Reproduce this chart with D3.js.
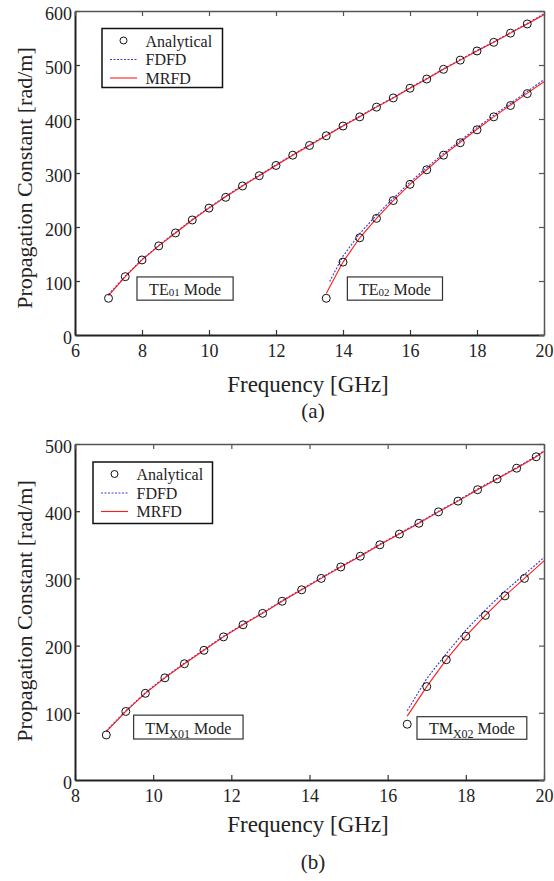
<!DOCTYPE html>
<html>
<head>
<meta charset="utf-8">
<script src="https://cdn.jsdelivr.net/npm/d3@7"></script>
<style>
  body { margin: 0; background: #fff; }
  svg text { font-family: "Liberation Serif", "Times New Roman", serif; fill: #222; }
</style>
</head>
<body>
<div id="chart"></div>
<script>
// ---- panel (a) data : TE modes ----
var teAnaFreq01 = [7, 7.5, 8, 8.5, 9, 9.5, 10, 10.5, 11, 11.5, 12, 12.5, 13, 13.5, 14, 14.5, 15, 15.5, 16, 16.5, 17, 17.5, 18, 18.5, 19, 19.5];
var te01Analytical = [68, 108, 139, 165, 189, 213, 235, 255, 276, 295, 314, 333, 351, 369, 387, 404, 422, 439, 457, 474, 492, 509, 526, 542, 559, 576];
var teLineFreq01 = [7, 7.5, 8, 8.5, 9, 9.5, 10, 10.5, 11, 11.5, 12, 12.5, 13, 13.5, 14, 14.5, 15, 15.5, 16, 16.5, 17, 17.5, 18, 18.5, 19, 19.5, 20];
var te01FDFD = [75, 109, 140, 166, 190, 214, 236, 257, 277, 296, 315, 334, 352, 370, 388, 405, 423, 440, 458, 475, 493, 510, 527, 543, 560, 577, 595];
var te01MRFD = [73, 108, 139, 165, 189, 213, 235, 256, 276, 295, 314, 333, 351, 369, 387, 404, 422, 439, 457, 474, 492, 509, 526, 542, 559, 576, 593];

var teAnaFreq02 = [13.5, 14, 14.5, 15, 15.5, 16, 16.5, 17, 17.5, 18, 18.5, 19, 19.5];
var te02Analytical = [68, 135, 180, 216, 249, 279, 306, 333, 356, 380, 404, 425, 447];
var teFdfdFreq02 = [13.6, 14, 14.5, 15, 15.5, 16, 16.5, 17, 17.5, 18, 18.5, 19, 19.5, 20];
var te02FDFD = [99, 146, 188, 222, 253, 283, 310, 336, 360, 384, 407, 429, 451, 473];
var teMrfdFreq02 = [13.5, 14, 14.5, 15, 15.5, 16, 16.5, 17, 17.5, 18, 18.5, 19, 19.5, 20];
var te02MRFD = [77, 135, 180, 216, 249, 279, 306, 333, 357, 381, 404, 426, 448, 469];

// ---- panel (b) data : TMx modes ----
var tmAnaFreq01 = [8.8, 9.3, 9.8, 10.3, 10.8, 11.3, 11.8, 12.3, 12.8, 13.3, 13.8, 14.3, 14.8, 15.3, 15.8, 16.3, 16.8, 17.3, 17.8, 18.3, 18.8, 19.3, 19.8];
var tm01Analytical = [67, 102, 129, 152, 173, 193, 213, 231, 248, 266, 283, 300, 317, 333, 350, 366, 382, 399, 415, 432, 448, 464, 481];
var tmLineFreq01 = [8.8, 9.3, 9.8, 10.3, 10.8, 11.3, 11.8, 12.3, 12.8, 13.3, 13.8, 14.3, 14.8, 15.3, 15.8, 16.3, 16.8, 17.3, 17.8, 18.3, 18.8, 19.3, 19.8, 20];
var tm01FDFD = [73, 103, 130, 153, 174, 194, 214, 232, 249, 267, 284, 301, 318, 334, 351, 367, 383, 400, 416, 433, 449, 465, 482, 490];
var tm01MRFD = [72, 102, 129, 152, 173, 193, 213, 231, 248, 266, 283, 300, 317, 333, 350, 366, 382, 399, 415, 432, 448, 464, 481, 489];

var tmAnaFreq02 = [16.5, 17, 17.5, 18, 18.5, 19, 19.5];
var tm02Analytical = [83, 139, 179, 214, 245, 274, 300];
var tmLineFreq02 = [16.5, 17, 17.5, 18, 18.5, 19, 19.5, 20];
var tm02FDFD = [103, 151, 188, 223, 253, 281, 306, 331];
var tm02MRFD = [95, 139, 179, 214, 245, 274, 300, 326];

function pairs(xs, ys) { return xs.map(function(x, i){ return [x, ys[i]]; }); }

var svg = d3.select("#chart").append("svg")
    .attr("width", 554)
    .attr("height", 881);

function drawPanel(cfg) {
    var x = d3.scaleLinear().domain(cfg.xDomain).range([75, 544]);
    var y = d3.scaleLinear().domain(cfg.yDomain).range(cfg.yRange);
    var g = svg.append("g");
    var top = cfg.yRange[1], bottom = cfg.yRange[0];

    // axes (ticks pointing inward)
    var bAxis = g.append("g").attr("transform", "translate(0," + bottom + ")")
        .call(d3.axisBottom(x).tickValues(cfg.xTicks).tickSizeInner(-5).tickSizeOuter(0).tickPadding(9));
    var lAxis = g.append("g").attr("transform", "translate(75,0)")
        .call(d3.axisLeft(y).tickValues(cfg.yTicks).tickSizeInner(-5).tickSizeOuter(0).tickPadding(3));
    var tAxis = g.append("g").attr("transform", "translate(0," + top + ")")
        .call(d3.axisTop(x).tickValues(cfg.xTicks).tickSizeInner(-5).tickSizeOuter(0).tickFormat(""));
    var rAxis = g.append("g").attr("transform", "translate(544,0)")
        .call(d3.axisRight(y).tickValues(cfg.yTicks).tickSizeInner(-5).tickSizeOuter(0).tickFormat(""));

    [bAxis, lAxis].forEach(function(a){
        a.select(".domain").attr("stroke", "#222").attr("stroke-width", 2);
        a.selectAll(".tick line").attr("stroke", "#333").attr("stroke-width", 1.2);
        a.selectAll(".tick text").style("font-size", "18px").attr("fill", "#222");
    });
    [tAxis, rAxis].forEach(function(a){
        a.select(".domain").attr("stroke", "#555").attr("stroke-width", 1.5);
        a.selectAll(".tick line").attr("stroke", "#555").attr("stroke-width", 1.2);
    });
    lAxis.selectAll(".tick text").attr("dy", "0.45em");

    var line = d3.line().x(function(d){ return x(d[0]); }).y(function(d){ return y(d[1]); });

    cfg.fdfd.forEach(function(s){
        g.append("path").datum(s).attr("fill", "none")
          .attr("stroke", "#3a3ad0").attr("stroke-width", 1.1)
          .attr("stroke-dasharray", "2,1.5").attr("d", line);
    });
    cfg.mrfd.forEach(function(s){
        g.append("path").datum(s).attr("fill", "none")
          .attr("stroke", "#ff1a1a").attr("stroke-width", 1.1).attr("d", line);
    });
    cfg.analytical.forEach(function(s){
        g.selectAll(null).data(s).enter().append("circle")
          .attr("cx", function(d){ return x(d[0]); })
          .attr("cy", function(d){ return y(d[1]); })
          .attr("r", 4).attr("fill", "none")
          .attr("stroke", "#111").attr("stroke-width", 1);
    });

    // mode label boxes
    cfg.modes.forEach(function(m){
        var x0 = x(m.f0), x1 = x(m.f1), y0 = y(m.b0), y1 = y(m.b1);
        g.append("rect").attr("x", x0).attr("y", y0).attr("width", x1 - x0).attr("height", y1 - y0)
          .attr("fill", "#fff").attr("stroke", "#333").attr("stroke-width", 1.2);
        var t = g.append("text").attr("x", (x0 + x1) / 2).attr("y", y1 - 5)
          .attr("text-anchor", "middle").style("font-size", "16px");
        t.append("tspan").text(m.main);
        t.append("tspan").text(m.sub).style("font-size", m.subSize).attr("dy", m.subDy);
        t.append("tspan").text(" Mode").attr("dy", -m.subDy);
    });

    // legend
    var L = cfg.legend;
    g.append("rect").attr("x", L.x).attr("y", L.y).attr("width", L.w).attr("height", L.h)
      .attr("fill", "#fff").attr("stroke", "#111").attr("stroke-width", 1.5);
    g.append("circle").attr("cx", L.x + 21.5).attr("cy", L.y + 12).attr("r", 3.5)
      .attr("fill", "none").attr("stroke", "#111").attr("stroke-width", 1);
    g.append("line").attr("x1", L.x + 8).attr("x2", L.x + 35).attr("y1", L.y + 31).attr("y2", L.y + 31)
      .attr("stroke", "#3a3ad0").attr("stroke-width", 1.1).attr("stroke-dasharray", "2,1.5");
    g.append("line").attr("x1", L.x + 8).attr("x2", L.x + 35).attr("y1", L.y + 49.5).attr("y2", L.y + 49.5)
      .attr("stroke", "#ff1a1a").attr("stroke-width", 1.1);
    ["Analytical", "FDFD", "MRFD"].forEach(function(s, i){
        g.append("text").attr("x", L.x + 43.5).attr("y", L.y + 18 + i * 18.5)
          .style("font-size", "16px").text(s);
    });

    // axis titles
    g.append("text").attr("transform", "translate(32," + cfg.yTitleC + ") rotate(-90)")
      .attr("text-anchor", "middle").style("font-size", "22px").text("Propagation Constant [rad/m]");
    g.append("text").attr("x", 308).attr("y", cfg.xTitleY).attr("text-anchor", "middle")
      .style("font-size", "23px").text("Frequency [GHz]");
    g.append("text").attr("x", 313).attr("y", cfg.capY).attr("text-anchor", "middle")
      .style("font-size", "21px").text(cfg.caption);
}

drawPanel({
    xDomain: [6, 20], yDomain: [0, 600], yRange: [335, 11],
    xTicks: [6, 8, 10, 12, 14, 16, 18, 20], yTicks: [0, 100, 200, 300, 400, 500, 600],
    analytical: [pairs(teAnaFreq01, te01Analytical), pairs(teAnaFreq02, te02Analytical)],
    fdfd: [pairs(teLineFreq01, te01FDFD), pairs(teFdfdFreq02, te02FDFD)],
    mrfd: [pairs(teLineFreq01, te01MRFD), pairs(teMrfdFreq02, te02MRFD)],
    modes: [
        {f0: 7.85, f1: 10.72, b0: 107.5, b1: 64.5, main: "TE", sub: "01", subSize: "11px", subDy: 1},
        {f0: 14.13, f1: 16.97, b0: 107.5, b1: 64.5, main: "TE", sub: "02", subSize: "11px", subDy: 1}
    ],
    legend: {x: 102, y: 28.5, w: 120.5, h: 59},
    yTitleC: 178, xTitleY: 392, capY: 418, caption: "(a)"
});

drawPanel({
    xDomain: [8, 20], yDomain: [0, 500], yRange: [780, 444],
    xTicks: [8, 10, 12, 14, 16, 18, 20], yTicks: [0, 100, 200, 300, 400, 500],
    analytical: [pairs(tmAnaFreq01, tm01Analytical), pairs(tmAnaFreq02, tm02Analytical)],
    fdfd: [pairs(tmLineFreq01, tm01FDFD), pairs(tmLineFreq02, tm02FDFD)],
    mrfd: [pairs(tmLineFreq01, tm01MRFD), pairs(tmLineFreq02, tm02MRFD)],
    modes: [
        {f0: 9.5, f1: 12.3, b0: 96.5, b1: 61, main: "TM", sub: "X01", subSize: "12px", subDy: 4},
        {f0: 16.75, f1: 19.56, b0: 94.2, b1: 60.6, main: "TM", sub: "X02", subSize: "12px", subDy: 4}
    ],
    legend: {x: 93, y: 462, w: 119.5, h: 61.5},
    yTitleC: 611, xTitleY: 832, capY: 869, caption: "(b)"
});
</script>
</body>
</html>
